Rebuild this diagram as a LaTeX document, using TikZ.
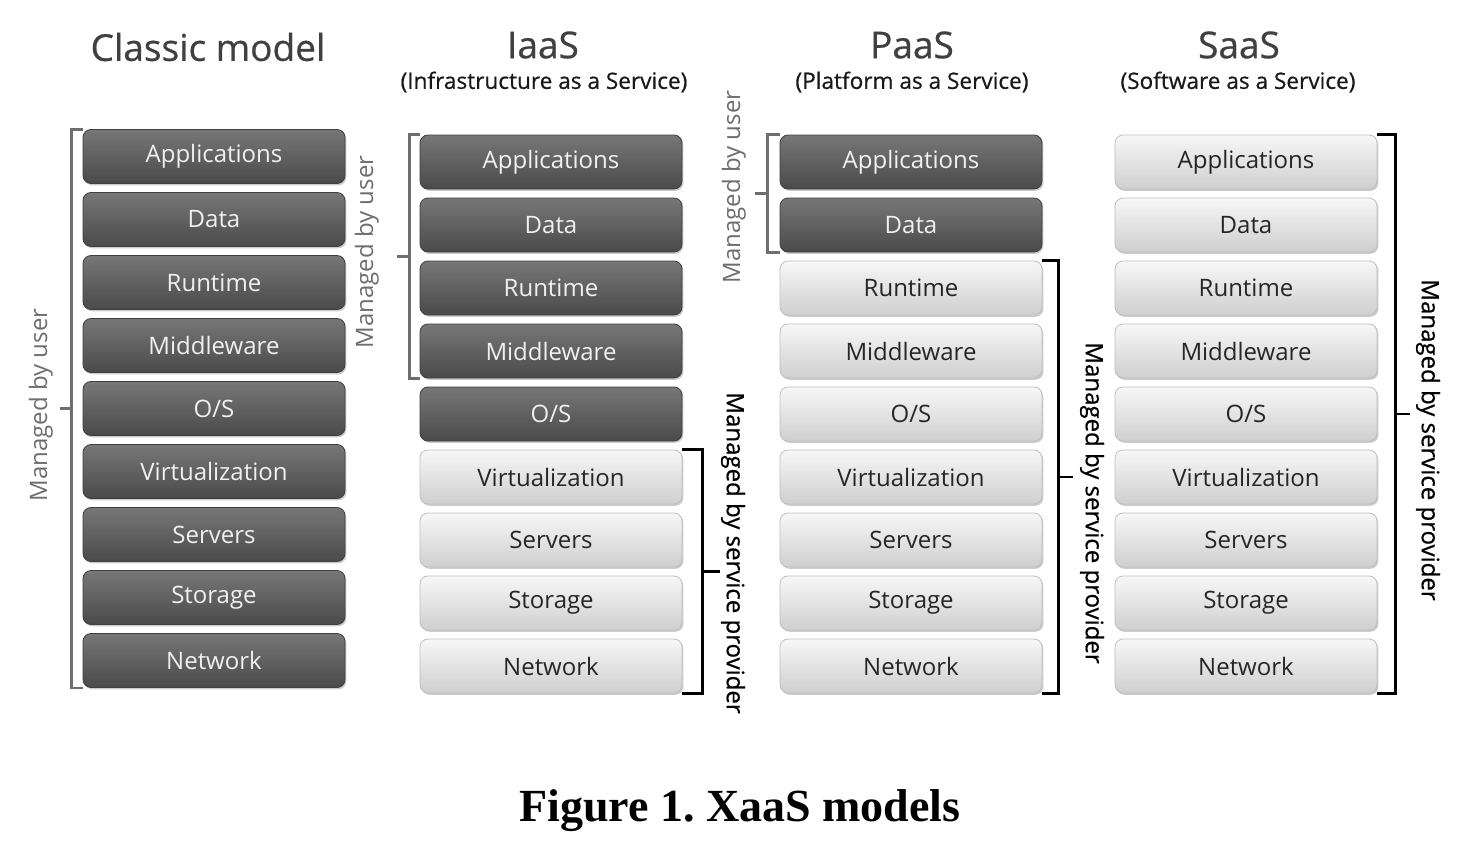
\documentclass[tikz,border=0pt]{standalone}
\usepackage{fontspec}
\setmainfont{Liberation Serif}
\newfontfamily\layerfont{Open Sans}
\newfontfamily\titlefont[FakeBold=0.6]{Open Sans}
\usetikzlibrary{calc,shadows}

\definecolor{darktop}{HTML}{777777}
\definecolor{darkbot}{HTML}{4A4A4A}
\definecolor{lighttop}{HTML}{F7F7F7}
\definecolor{lightbot}{HTML}{CFCFCF}
\definecolor{usergray}{HTML}{6E6E6E}

\tikzset{
	layer/.style={rounded corners=4pt, minimum width=131pt, minimum height=27pt, inner sep=0pt,
		font=\layerfont\fontsize{12}{14}\selectfont,
		drop shadow={shadow xshift=0.7pt, shadow yshift=-0.9pt, opacity=0.4}},
	darklayer/.style={layer, draw=darkbot!85!black, top color=darktop, bottom color=darkbot, text=white!94!black},
	lightlayer/.style={layer, draw=black!25, top color=lighttop, bottom color=lightbot, text=black!85},
	userbr/.style={draw=usergray, line width=1.4pt},
	provbr/.style={draw=black, line width=1.4pt},
	userlabel/.style={font=\layerfont\fontsize{12}{14}\selectfont, text=usergray, rotate=90},
	provlabel/.style={font=\titlefont\fontsize{12}{14}\selectfont, text=black, rotate=-90},
	modeltitle/.style={font=\titlefont\fontsize{18.5}{22}\selectfont, text=black!75},
	modelsub/.style={font=\titlefont\fontsize{11.3}{13}\selectfont, text=black!90},
}

\begin{document}
\begin{tikzpicture}[x=0.5pt, y=-0.5pt]
	\useasboundingbox[fill=white] (0,0) rectangle (1469,851);
	% titles
	\node[modeltitle] (tclassic) at (208,47) {Classic model};
	\node[modeltitle] (tiaas) at (543,45) {IaaS};
	\node[modelsub] (siaas) at (544,82) {(Infrastructure as a Service)};
	\node[modeltitle] (tpaas) at (912,45) {PaaS};
	\node[modelsub] (spaas) at (912,82) {(Platform as a Service)};
	\node[modeltitle] (tsaas) at (1239,45) {SaaS};
	\node[modelsub] (ssaas) at (1238,82) {(Software as a Service)};
	% the layer stacks
	\foreach \col/\cx/\ty/\nd in {c/214/156.5/9, i/551/162/5, p/911/162/2, s/1246/162/0} {
		\foreach \name [count=\k] in {Applications,Data,Runtime,Middleware,O/S,Virtualization,Servers,Storage,Network} {
			\ifnum\k>\nd \def\kind{lightlayer}\else\def\kind{darklayer}\fi
			\node[\kind] (\col\k) at (\cx,{\ty+63*(\k-1)}) {\name};
		}
	}
	% managed by user
	\draw[userbr] (c1.north west) -- ++(-11,0) |- (c9.south west);
	\draw[userbr] ($(c1.north west)!0.5!(c9.south west)+(-11,0)$) -- ++(-12,0);
	\node[userlabel] (uclassic) at (41,405) {Managed by user};
	\draw[userbr] (i1.north west) -- ++(-10,0) |- (i4.south west);
	\draw[userbr] ($(i1.north west)!0.5!(i4.south west)+(-10,0)$) -- ++(-13,0);
	\node[userlabel] (uiaas) at (367,252) {Managed by user};
	\draw[userbr] (p1.north west) -- ++(-12,0) |- (p2.south west);
	\draw[userbr] ($(p1.north west)!0.5!(p2.south west)+(-12,0)$) -- ++(-13,0);
	\node[userlabel] (upaas) at (734,187) {Managed by user};
	% managed by service provider
	\draw[provbr] (i6.north east) -- ++(20,0) |- (i9.south east);
	\draw[provbr] ($(i6.north east)!0.5!(i9.south east)+(20,0)$) -- ++(18,0);
	\node[provlabel] (piaas) at (733,553) {Managed by service provider};
	\draw[provbr] (p3.north east) -- ++(16,0) |- (p9.south east);
	\draw[provbr] ($(p3.north east)!0.5!(p9.south east)+(16,0)$) -- ++(15,0);
	\node[provlabel] (ppaas) at (1092,503) {Managed by service provider};
	\draw[provbr] (s1.north east) -- ++(18,0) |- (s9.south east);
	\draw[provbr] ($(s1.north east)!0.5!(s9.south east)+(18,0)$) -- ++(15,0);
	\node[provlabel] (psaas) at (1428,440) {Managed by service provider};
	% caption
	\node[font=\bfseries\fontsize{23}{27}\selectfont] (caption) at (740,811) {Figure 1.\ XaaS models};
\end{tikzpicture}
\end{document}
